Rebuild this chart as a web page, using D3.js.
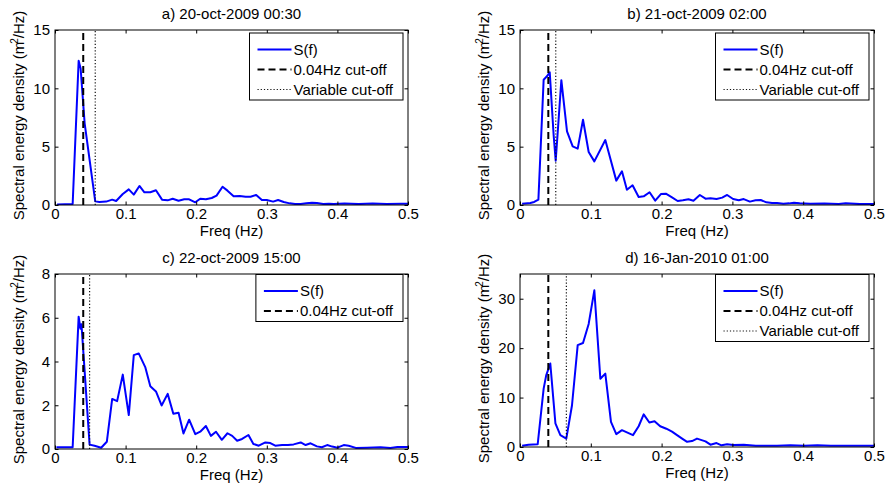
<!DOCTYPE html>
<html>
<head>
<meta charset="utf-8">
<script src="https://d3js.org/d3.v7.min.js"></script>
<style>
body { margin: 0; background: #fff; }
svg text { font-family: "Liberation Sans", Arial, sans-serif; font-size: 15px; fill: #000; }
</style>
</head>
<body>
<svg id="chart" width="888" height="493"></svg>
<script>
// panel titles
var titles = ["a) 20-oct-2009 00:30", "b) 21-oct-2009 02:00", "c) 22-oct-2009 15:00", "d) 16-Jan-2010 01:00"];

// spectra: [freq (Hz), S (m2/Hz)]
var specA = [[0.003,0.05],[0.025,0.09],[0.0335,12.37],[0.0363,11.7],[0.042,7.0],[0.057,0.31],[0.063,0.26],[0.0725,0.29],
  [0.081,0.46],[0.0866,0.34],[0.096,0.94],[0.1045,1.34],[0.1116,0.89],[0.1196,1.63],[0.1266,1.09],[0.135,1.09],[0.143,1.26],
  [0.1516,0.46],[0.1596,0.4],[0.1667,0.54],[0.175,0.37],[0.183,0.49],[0.19,0.49],[0.1987,0.23],[0.2057,0.54],[0.2137,0.49],
  [0.222,0.6],[0.2288,0.8],[0.2373,1.57],[0.2443,1.23],[0.253,0.75],[0.2616,0.77],[0.27,0.71],[0.277,0.71],[0.285,0.86],
  [0.293,0.43],[0.30,0.43],[0.309,0.29],[0.316,0.43],[0.324,0.26],[0.3325,0.14],[0.34,0.09],[0.348,0.09],[0.356,0.14],
  [0.364,0.2],[0.371,0.17],[0.38,0.09],[0.388,0.11],[0.395,0.09],[0.41,0.12],[0.43,0.08],[0.45,0.12],[0.47,0.09],[0.49,0.1],[0.5,0.1]];

var specB = [[0.003,0.11],[0.0146,0.17],[0.02,0.26],[0.026,0.46],[0.0334,10.74],[0.038,11.03],[0.042,11.37],[0.0475,6.0],
  [0.0504,3.8],[0.053,6.0],[0.0584,10.7],[0.0664,6.31],[0.0744,5.03],[0.0815,4.83],[0.089,7.31],[0.097,4.54],[0.105,3.74],
  [0.1205,5.57],[0.136,2.09],[0.144,2.89],[0.151,1.31],[0.159,1.69],[0.1676,0.69],[0.1747,0.74],[0.183,1.09],[0.191,0.37],
  [0.199,0.94],[0.206,0.97],[0.2147,0.66],[0.2227,0.34],[0.23,0.4],[0.238,0.49],[0.245,0.37],[0.254,0.86],[0.262,0.54],
  [0.269,0.57],[0.2776,0.51],[0.2856,0.63],[0.2926,0.86],[0.301,0.51],[0.309,0.4],[0.316,0.51],[0.3247,0.29],[0.3327,0.4],
  [0.34,0.43],[0.348,0.23],[0.356,0.17],[0.363,0.17],[0.372,0.11],[0.38,0.14],[0.387,0.2],[0.395,0.14],[0.41,0.11],
  [0.43,0.12],[0.45,0.09],[0.46,0.14],[0.48,0.08],[0.5,0.08]];

var specC = [[0.002,0.08],[0.025,0.08],[0.0335,6.05],[0.036,5.5],[0.0375,5.7],[0.049,0.2],[0.056,0.15],[0.0654,0.06],
  [0.0734,0.33],[0.081,2.29],[0.088,2.19],[0.096,3.4],[0.1045,1.55],[0.1116,4.29],[0.1186,4.37],[0.128,3.73],[0.135,2.87],
  [0.143,2.63],[0.151,1.99],[0.1596,2.52],[0.1676,1.61],[0.175,1.66],[0.182,0.71],[0.19,1.34],[0.1987,0.68],[0.2057,0.79],
  [0.2137,1.05],[0.2208,0.6],[0.228,0.79],[0.2363,0.42],[0.2443,0.72],[0.251,0.6],[0.258,0.38],[0.265,0.46],[0.274,0.64],
  [0.281,0.23],[0.2886,0.15],[0.298,0.3],[0.305,0.27],[0.312,0.15],[0.3217,0.18],[0.33,0.18],[0.338,0.21],[0.348,0.3],
  [0.355,0.18],[0.362,0.26],[0.371,0.12],[0.378,0.08],[0.3855,0.18],[0.3926,0.11],[0.4,0.06],[0.409,0.18],[0.416,0.15],
  [0.426,0.05],[0.442,0.06],[0.461,0.08],[0.475,0.05],[0.485,0.09],[0.5,0.09]];

var specD = [[0.003,0.24],[0.012,0.44],[0.025,0.58],[0.0334,11.8],[0.037,14.5],[0.0428,16.9],[0.0466,10.5],[0.05,4.8],
  [0.057,2.4],[0.0654,1.7],[0.0734,8.4],[0.0815,20.6],[0.089,21.05],[0.097,24.9],[0.105,31.7],[0.1135,13.8],[0.1205,14.85],
  [0.1285,5.1],[0.136,2.6],[0.144,3.4],[0.1596,2.4],[0.1676,4.2],[0.1747,6.6],[0.1827,4.96],[0.19,5.2],[0.198,4.2],
  [0.2067,3.7],[0.2147,3.1],[0.2218,2.4],[0.229,1.7],[0.236,1.05],[0.243,1.2],[0.25,1.7],[0.262,1.14],[0.269,0.47],
  [0.2776,0.8],[0.2846,0.34],[0.2926,0.54],[0.301,0.4],[0.316,0.47],[0.333,0.27],[0.349,0.27],[0.363,0.27],[0.382,0.34],
  [0.401,0.27],[0.42,0.34],[0.439,0.27],[0.4576,0.27],[0.481,0.27],[0.5,0.27]];

var yMax = [15, 15, 8, 35];
var yTicks = [[0,5,10,15], [0,5,10,15], [0,2,4,6,8], [0,10,20,30]];
var xTicks = [0, 0.1, 0.2, 0.3, 0.4, 0.5];
var fixedCut = 0.04;
var varCut = [0.057, 0.0505, 0.049, 0.0655];
var legendLabels = [
  ["S(f)", "0.04Hz cut-off", "Variable cut-off"],
  ["S(f)", "0.04Hz cut-off", "Variable cut-off"],
  ["S(f)", "0.04Hz cut-off"],
  ["S(f)", "0.04Hz cut-off", "Variable cut-off"]
];

var specs = [specA, specB, specC, specD];
var svg = d3.select("#chart");

// axes boxes
var boxes = [
  {x0: 55, x1: 408, y0: 30, y1: 205, legTop: 3},
  {x0: 520, x1: 874, y0: 30, y1: 205, legTop: 3},
  {x0: 55, x1: 408, y0: 274, y1: 449, legTop: 0.5},
  {x0: 520, x1: 874, y0: 274, y1: 447, legTop: 0.5}
];

var styles = [
  {stroke: "#0000ff", width: 2, dash: null},
  {stroke: "#000", width: 2, dash: "7,4"},
  {stroke: "#111", width: 1.2, dash: "1.2,2"}
];

function panel(i) {
  var b = boxes[i];
  var x = d3.scaleLinear().domain([0, 0.5]).range([b.x0, b.x1]);
  var y = d3.scaleLinear().domain([0, yMax[i]]).range([b.y1, b.y0]);
  var g = svg.append("g");

  g.append("clipPath").attr("id", "clip" + i)
    .append("rect").attr("x", b.x0).attr("y", b.y0).attr("width", b.x1 - b.x0).attr("height", b.y1 - b.y0);

  var line = d3.line()
    .x(function(d) { return x(d[0]); })
    .y(function(d) { return y(d[1]); });

  g.append("path")
    .datum(specs[i])
    .attr("clip-path", "url(#clip" + i + ")")
    .attr("fill", "none")
    .attr("stroke", styles[0].stroke)
    .attr("stroke-width", styles[0].width)
    .attr("stroke-linejoin", "round")
    .attr("d", line);

  // cut-off lines
  g.append("line")
    .attr("x1", x(fixedCut)).attr("x2", x(fixedCut))
    .attr("y1", y(0)).attr("y2", y(yMax[i]))
    .attr("stroke", styles[1].stroke).attr("stroke-width", styles[1].width)
    .attr("stroke-dasharray", styles[1].dash);
  g.append("line")
    .attr("x1", x(varCut[i])).attr("x2", x(varCut[i]))
    .attr("y1", y(0)).attr("y2", y(yMax[i]))
    .attr("stroke", styles[2].stroke).attr("stroke-width", styles[2].width)
    .attr("stroke-dasharray", styles[2].dash);

  // axes, matlab style ticks inside
  var fmt = d3.format("");
  g.append("g").attr("transform", "translate(0," + b.y1 + ")")
    .call(d3.axisBottom(x).tickValues(xTicks).tickFormat(fmt).tickSizeInner(-3.5).tickSizeOuter(0).tickPadding(3))
    .call(function(a) { a.select(".domain").remove(); });
  g.append("g").attr("transform", "translate(0," + b.y0 + ")")
    .call(d3.axisTop(x).tickValues(xTicks).tickFormat("").tickSizeInner(-3.5).tickSizeOuter(0))
    .call(function(a) { a.select(".domain").remove(); });
  g.append("g").attr("transform", "translate(" + b.x0 + ",0)")
    .call(d3.axisLeft(y).tickValues(yTicks[i]).tickFormat(fmt).tickSizeInner(-3.5).tickSizeOuter(0).tickPadding(5))
    .call(function(a) { a.select(".domain").remove(); });
  g.append("g").attr("transform", "translate(" + b.x1 + ",0)")
    .call(d3.axisRight(y).tickValues(yTicks[i]).tickFormat("").tickSizeInner(-3.5).tickSizeOuter(0))
    .call(function(a) { a.select(".domain").remove(); });

  g.append("rect")
    .attr("x", b.x0).attr("y", b.y0)
    .attr("width", b.x1 - b.x0).attr("height", b.y1 - b.y0)
    .attr("fill", "none").attr("stroke", "#000").attr("stroke-width", 1);

  // title and labels
  g.append("text")
    .attr("x", (b.x0 + b.x1) / 2).attr("y", b.y0 - 11.5)
    .attr("text-anchor", "middle")
    .text(titles[i]);
  g.append("text")
    .attr("x", (b.x0 + b.x1) / 2).attr("y", b.y1 + 31)
    .attr("text-anchor", "middle")
    .text("Freq (Hz)");

  var yl = g.append("text")
    .attr("transform", "translate(" + (b.x0 - 31) + "," + ((b.y0 + b.y1) / 2 - 2) + ") rotate(-90)")
    .attr("text-anchor", "middle");
  yl.append("tspan").text("Spectral energy density (m");
  yl.append("tspan").attr("font-size", "10px").attr("dy", -6).attr("dx", -2).text("2");
  yl.append("tspan").attr("dy", 6).text("/Hz)");

  // legend
  var leg = g.append("g");
  var box = leg.append("rect").attr("fill", "#fff").attr("stroke", "#000").attr("stroke-width", 1);
  var maxW = 0;
  legendLabels[i].forEach(function(lab, k) {
    var cy = 16.5 + k * 20;
    leg.append("line")
      .attr("x1", 8).attr("x2", 42).attr("y1", cy).attr("y2", cy)
      .attr("stroke", styles[k].stroke).attr("stroke-width", styles[k].width)
      .attr("stroke-dasharray", styles[k].dash);
    var t = leg.append("text").attr("x", 44).attr("y", cy).attr("dy", "0.36em").text(lab);
    maxW = Math.max(maxW, t.node().getComputedTextLength());
  });
  var lw = 44 + maxW + 10, lh = legendLabels[i].length * 20 + 7;
  box.attr("x", 0).attr("y", 0).attr("width", lw).attr("height", lh);
  leg.attr("transform", "translate(" + (b.x1 - 5 - lw) + "," + (b.y0 + b.legTop) + ")");
}

for (var i = 0; i < 4; i++) panel(i);
</script>
</body>
</html>
